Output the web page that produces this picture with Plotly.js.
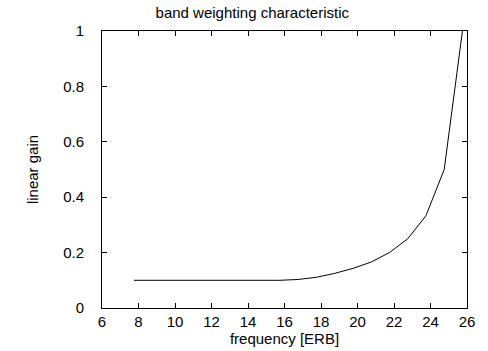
<!DOCTYPE html>
<html><head><meta charset="utf-8">
<script src="https://cdn.plot.ly/plotly-3.0.1.min.js"></script>
<style>html,body{margin:0;padding:0;background:#fff}</style>
</head><body><div id="chart" style="width:488px;height:351px"></div>
<script>
const frequencyERB = [7.75, 8.75, 9.75, 10.75, 11.75, 12.75, 13.75, 14.75, 15.75, 16.75, 17.75, 18.75, 19.75, 20.75, 21.75, 22.75, 23.75, 24.75, 25.75];
const linearGain = [0.1, 0.1, 0.1, 0.1, 0.1, 0.1, 0.1, 0.1, 0.1, 0.103, 0.111, 0.125, 0.143, 0.166, 0.2, 0.25, 0.333, 0.5, 1.0];
const xTicks = [6, 8, 10, 12, 14, 16, 18, 20, 22, 24, 26];
const yTicks = [0, 0.2, 0.4, 0.6, 0.8, 1];
const yTickText = ['0', '0.2', '0.4', '0.6', '0.8', '1'];

const font = {family: 'Liberation Sans, Arial, sans-serif', size: 15, color: '#000'};
Plotly.newPlot('chart', [{
  x: frequencyERB, y: linearGain, type: 'scatter', mode: 'lines',
  line: {color: '#000', width: 1}
}], {
  width: 488, height: 351,
  margin: {l: 102, r: 21, t: 31, b: 43, pad: 0},
  paper_bgcolor: '#fff', plot_bgcolor: '#fff',
  font: font,
  showlegend: false,
  title: {text: 'band weighting characteristic', font: font, x: 0.517, xanchor: 'center', y: 0.965, yanchor: 'middle'},
  xaxis: {
    range: [6, 26], tickvals: xTicks, ticktext: xTicks.map(String),
    ticks: 'inside', ticklen: 5, tickcolor: '#000', tickwidth: 1,
    showline: true, linecolor: '#000', linewidth: 1, mirror: 'ticks',
    showgrid: false, zeroline: false, tickfont: font,
    title: {text: 'frequency [ERB]', font: font, standoff: 0}
  },
  yaxis: {
    range: [0, 1], tickvals: yTicks, ticktext: yTickText,
    ticks: 'inside', ticklen: 5, tickcolor: '#000', tickwidth: 1,
    ticklabelstandoff: 14,
    showline: true, linecolor: '#000', linewidth: 1, mirror: 'ticks',
    showgrid: false, zeroline: false, tickfont: font,
    title: {text: 'linear gain', font: font, standoff: 20}
  }
}, {displayModeBar: false, staticPlot: true});
</script></body></html>
